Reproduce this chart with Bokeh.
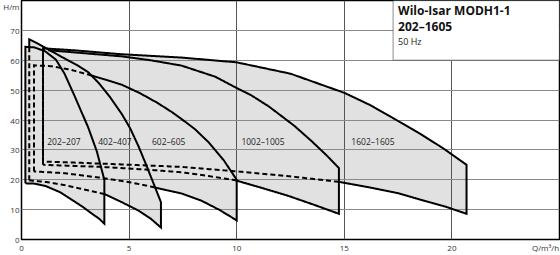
import numpy as np
from bokeh.plotting import figure
from bokeh.models import Label, BoxAnnotation, FixedTicker, Range1d
from bokeh.core.properties import value
from bokeh.embed import file_html
from bokeh.resources import INLINE

# ---------------- data ----------------
series = ["202–207", "402–407", "602–605", "1002–1005", "1602–1605"]

q_max_202 = [0.18, 0.6, 1.1, 1.6, 2.0, 2.5, 3.1, 3.5, 3.85]
h_max_202 = [64.5, 64.3, 63.0, 60.2, 55.5, 47.5, 37.5, 29.5, 20.0]
q_min_202 = [0.18, 0.6, 1.12, 1.8, 2.36, 2.85, 3.28, 3.6, 3.85]
h_min_202 = [18.8, 18.7, 17.9, 15.8, 13.2, 10.9, 8.6, 7.0, 5.3]

q_max_402 = [0.36, 0.7, 1.2, 2.0, 2.6, 3.1, 3.6, 4.1, 4.66, 5.05, 5.45, 5.82, 6.15, 6.48]
h_max_402 = [67.0, 65.8, 63.8, 60.6, 58.3, 56.0, 52.3, 47.8, 42.0, 37.2, 31.0, 24.5, 18.5, 12.5]
q_min_402 = [0.36, 1.2, 2.0, 3.0, 3.86, 4.6, 5.43, 6.0, 6.48]
h_min_402 = [19.8, 19.2, 18.2, 16.6, 15.2, 12.7, 9.7, 7.0, 4.0]

q_max_602 = [0.58, 1.4, 2.3, 3.2, 4.0, 4.66, 5.5, 6.3, 7.0, 7.44, 8.05, 8.7, 9.4, 10.0]
h_max_602 = [58.3, 58.0, 56.8, 55.0, 53.3, 51.8, 49.0, 45.8, 42.6, 40.3, 37.0, 32.5, 26.5, 20.0]
q_min_602 = [0.58, 2.0, 3.74, 5.0, 5.9, 6.5, 7.44, 8.36, 9.2, 10.0]
h_min_602 = [22.8, 22.2, 20.6, 19.2, 17.9, 16.9, 15.4, 13.0, 9.9, 6.4]

q_max_1002 = [1.0, 2.5, 4.66, 6.0, 7.44, 9.0, 10.0, 10.67, 11.5, 12.67, 13.5, 14.2, 14.75]
h_max_1002 = [63.5, 62.6, 61.3, 60.0, 58.2, 54.5, 50.7, 48.3, 44.5, 38.1, 32.8, 28.0, 23.9]
q_min_1002 = [1.0, 3.74, 6.0, 7.44, 8.36, 9.9, 11.2, 12.4, 13.6, 14.75]
h_min_1002 = [25.0, 24.3, 23.3, 22.5, 21.6, 19.9, 17.2, 14.6, 11.6, 8.6]

q_max_1602 = [1.0, 2.5, 4.66, 7.44, 10.0, 12.5, 15.0, 16.2, 17.3, 18.5, 19.6, 20.68]
h_max_1602 = [64.0, 63.3, 62.0, 60.9, 59.3, 55.5, 49.1, 45.0, 40.5, 35.5, 30.5, 25.0]
q_min_1602 = [1.0, 3.0, 5.1, 7.44, 10.0, 12.4, 14.75, 16.2, 17.5, 18.7, 19.7, 20.68]
h_min_1602 = [26.1, 25.6, 25.0, 24.3, 22.8, 21.2, 19.3, 17.4, 15.5, 13.0, 11.0, 8.6]

x_ticks = [0, 5, 10, 15, 20]
y_ticks = [0, 10, 20, 30, 40, 50, 60, 70]
x_title = "Q/m³/h"
y_title = "H/m"

regions = [
    (q_max_202, h_max_202, q_min_202, h_min_202),
    (q_max_402, h_max_402, q_min_402, h_min_402),
    (q_max_602, h_max_602, q_min_602, h_min_602),
    (q_max_1002, h_max_1002, q_min_1002, h_min_1002),
    (q_max_1602, h_max_1602, q_min_1602, h_min_1602),
]

# layout constants (positions of the range labels and of the axis titles)
label_x = [1.97, 4.34, 6.84, 11.22, 16.33]
label_y = [32.8] * 5
x_title_pos = 24.35
y_title_pos = 78.0

FONT = "Open Sans"

p = figure(width=560, height=255, x_range=Range1d(0, 25), y_range=Range1d(0, 80),
           output_backend="svg", toolbar_location=None,
           min_border_left=19, min_border_right=1, min_border_top=0, min_border_bottom=12)
p.background_fill_color = "white"
p.border_fill_color = "white"
p.outline_line_color = "black"
p.outline_line_width = 1.5

for ax, ticks, tpos, ttxt in ((p.xaxis[0], x_ticks, x_title_pos, x_title),
                              (p.yaxis[0], y_ticks, y_title_pos, y_title)):
    ax.ticker = FixedTicker(ticks=ticks + [tpos])
    ax.major_label_overrides = {tpos: ttxt}
    ax.axis_line_color = None
    ax.major_tick_line_color = None
    ax.minor_tick_line_color = None
    ax.major_tick_out = 0
    ax.major_tick_in = 0
    ax.major_label_text_font = FONT
    ax.major_label_text_font_size = "8px"
    ax.major_label_text_color = "#333333"
    ax.major_label_standoff = 2

p.xgrid.ticker = FixedTicker(ticks=x_ticks)
p.ygrid.ticker = FixedTicker(ticks=y_ticks)
p.xgrid.grid_line_color = "#555555"
p.ygrid.grid_line_color = "#8a8a8a"
p.xgrid.grid_line_width = 1
p.ygrid.grid_line_width = 1

# fills
fill_xs = [list(qx) + list(qn[::-1]) for qx, hx, qn, hn in regions]
fill_ys = [list(hx) + list(hn[::-1]) for qx, hx, qn, hn in regions]
p.patches(fill_xs, fill_ys, fill_color="#e1e1e1", line_color=None, level="image")


def inside(x, y, reg):
    qx, hx, qn, hn = reg
    if x <= qx[0] + 1e-6 or x >= qx[-1] - 1e-6:
        return False
    top = np.interp(x, qx, hx)
    bot = np.interp(x, qn, hn)
    return bot + 0.2 < y < top - 0.2


solid_xs, solid_ys, dash_xs, dash_ys = [], [], [], []
for i, (qx, hx, qn, hn) in enumerate(regions):
    px = [qn[0]] + list(qx) + list(qn[::-1])
    py = [hn[0]] + list(hx) + list(hn[::-1])
    earlier = regions[:i]
    runs = []
    for k in range(len(px) - 1):
        x0, y0, x1, y1 = px[k], py[k], px[k + 1], py[k + 1]
        n = 40
        for s in range(n):
            ta, tb = s / n, (s + 1) / n
            xa, ya = x0 + (x1 - x0) * ta, y0 + (y1 - y0) * ta
            xb, yb = x0 + (x1 - x0) * tb, y0 + (y1 - y0) * tb
            xm, ym = (xa + xb) / 2, (ya + yb) / 2
            flag = any(inside(xm, ym, r) for r in earlier)
            if runs and runs[-1][0] == flag:
                runs[-1][1].append(xb)
                runs[-1][2].append(yb)
            else:
                runs.append([flag, [xa, xb], [ya, yb]])
    for flag, xs, ys in runs:
        if flag:
            dash_xs.append(xs); dash_ys.append(ys)
        else:
            solid_xs.append(xs); solid_ys.append(ys)

p.multi_line(dash_xs, dash_ys, line_color="black", line_width=2, line_dash="5 3",
             line_join="miter")
p.multi_line(solid_xs, solid_ys, line_color="black", line_width=2, line_join="miter")

p.text(x=label_x, y=label_y, text=series, text_font=value(FONT), text_font_size="8.5px",
       text_align="center", text_baseline="middle", text_color="#222222")

# title box
box = BoxAnnotation(left=17.27, right=25, bottom=60, top=80, fill_color="white", fill_alpha=1,
                    line_color="black", line_width=1.5)
p.add_layout(box)
p.add_layout(Label(x=17.5, y=80, y_offset=-1, text="Wilo-Isar MODH1-1", text_font=FONT,
                   text_font_style="bold", text_font_size="12px", text_baseline="top",
                   text_color="#111111"))
p.add_layout(Label(x=17.5, y=80, y_offset=-17, text="202–1605", text_font=FONT,
                   text_font_style="bold", text_font_size="12px", text_baseline="top",
                   text_color="#111111"))
p.add_layout(Label(x=17.5, y=80, y_offset=-34, text="50 Hz", text_font=FONT,
                   text_font_size="9px", text_baseline="top", text_color="#222222"))

open("out.html", "w").write(file_html(p, INLINE))
